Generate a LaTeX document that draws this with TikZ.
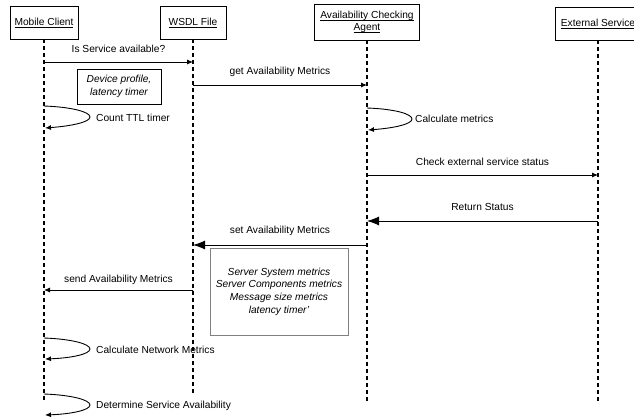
\documentclass[tikz,border=0pt]{standalone}
\usepackage{fontspec}
\setmainfont{Liberation Sans}
\usetikzlibrary{arrows.meta}
\newcommand\myul[1]{\setbox0\hbox{#1}\rlap{\vrule width \wd0 height -1.2pt depth 1.7pt}\box0}
\begin{document}
\begin{tikzpicture}[x=1pt,y=-1pt,
  font=\fontsize{10.2}{12.7}\selectfont,
  actor/.style={draw,line width=0.9pt,minimum height=33pt,inner sep=0pt,align=center,fill=white},
  life/.style={line width=1.4pt,dash pattern=on 4pt off 3pt},
  msg/.style={line width=0.9pt,-{Latex[length=6pt,width=5pt]}},
  bigmsg/.style={line width=0.9pt,-{Latex[length=12pt,width=9pt]}},
  lbl/.style={inner sep=0pt},
  note/.style={draw,line width=0.9pt,inner sep=0pt,align=center,font=\fontsize{10.2}{12.7}\selectfont\itshape},
]
\clip (0,0) rectangle (634,419);
\useasboundingbox (0,0) rectangle (634,419);

% actors
\node[actor,minimum width=68pt] (mc) at (44,22.5) {\myul{Mobile Client}};
\node[actor,minimum width=66pt] (wsdl) at (193,22.5) {\myul{WSDL File}};
\node[actor,minimum width=105pt,minimum height=36pt] (aca) at (367,22) {\myul{Availability Checking}\\[-1pt]\myul{Agent}};
\node[actor,minimum width=86pt] (ext) at (598,23.5) {\myul{External Service}};

% lifelines
\coordinate (mcEnd) at (44,400);
\coordinate (wsdlEnd) at (193,396);
\coordinate (acaEnd) at (367,401);
\coordinate (extEnd) at (598,401);
\draw[life] (mc) -- (mcEnd);
\draw[life] (wsdl) -- (wsdlEnd);
\draw[life] (aca) -- (acaEnd);
\draw[life] (ext) -- (extEnd);

% notes
\node[note,minimum width=84pt,minimum height=35pt] (n1) at (119,86.5) {Device profile,\\latency timer};
\node[note,draw=gray,minimum width=138pt,minimum height=87pt] (n2) at (279,291.5)
  {Server System metrics\\Server Components metrics\\Message size metrics\\latency timer'};

% message 1
\coordinate (m1a) at (44,62); \coordinate (m1b) at (193,62);
\draw[msg] (m1a) -- node[lbl,yshift=13pt] (t1) {Is Service available?} (m1b);
% message 2
\coordinate (m2a) at (193,85); \coordinate (m2b) at (367,85);
\draw[msg] (m2a) -- node[lbl,yshift=13.5pt] (t2) {get Availability Metrics} (m2b);
% self loop Count TTL
\coordinate (l1a) at (44,106); \coordinate (l1b) at (45,128);
\draw[msg] (l1a) .. controls (72,107) and (90,112) .. (90,117) .. controls (90,122) and (72,126) .. (l1b);
\node[lbl,anchor=west] (t3) at (96,117.5) {Count TTL timer};
% self loop Calculate metrics
\coordinate (l2a) at (367,108); \coordinate (l2b) at (368,130);
\draw[msg] (l2a) .. controls (395,109) and (412,114) .. (412,119) .. controls (412,124) and (395,128) .. (l2b);
\node[lbl,anchor=west] (t4) at (415,118.5) {Calculate metrics};
% message check external
\coordinate (m3a) at (367,175); \coordinate (m3b) at (598,175);
\draw[msg] (m3a) -- node[lbl,yshift=13pt] (t5) {Check external service status} (m3b);
% return status
\coordinate (m4a) at (598,221); \coordinate (m4b) at (367,221);
\draw[bigmsg] (m4a) -- node[lbl,yshift=14pt] (t6) {Return Status} (m4b);
% set availability metrics
\coordinate (m5a) at (367,245); \coordinate (m5b) at (193,245);
\draw[bigmsg] (m5a) -- node[lbl,yshift=14.5pt] (t7) {set Availability Metrics} (m5b);
% send availability metrics
\coordinate (m6a) at (193,290); \coordinate (m6b) at (44,290);
\draw[msg] (m6a) -- node[lbl,yshift=10pt] (t8) {send Availability Metrics} (m6b);
% self loop Calculate Network Metrics
\coordinate (l3a) at (44,338); \coordinate (l3b) at (45,359);
\draw[msg] (l3a) .. controls (72,339) and (90,344) .. (90,349) .. controls (90,354) and (72,358) .. (l3b);
\node[lbl,anchor=west] (t9) at (96,350) {Calculate Network Metrics};
% self loop Determine Service Availability
\coordinate (l4a) at (44,394); \coordinate (l4b) at (45,415);
\draw[msg] (l4a) .. controls (72,395) and (90,400) .. (90,405) .. controls (90,410) and (72,414) .. (l4b);
\node[lbl,anchor=west] (t10) at (96,405.5) {Determine Service Availability};
\end{tikzpicture}
\end{document}
